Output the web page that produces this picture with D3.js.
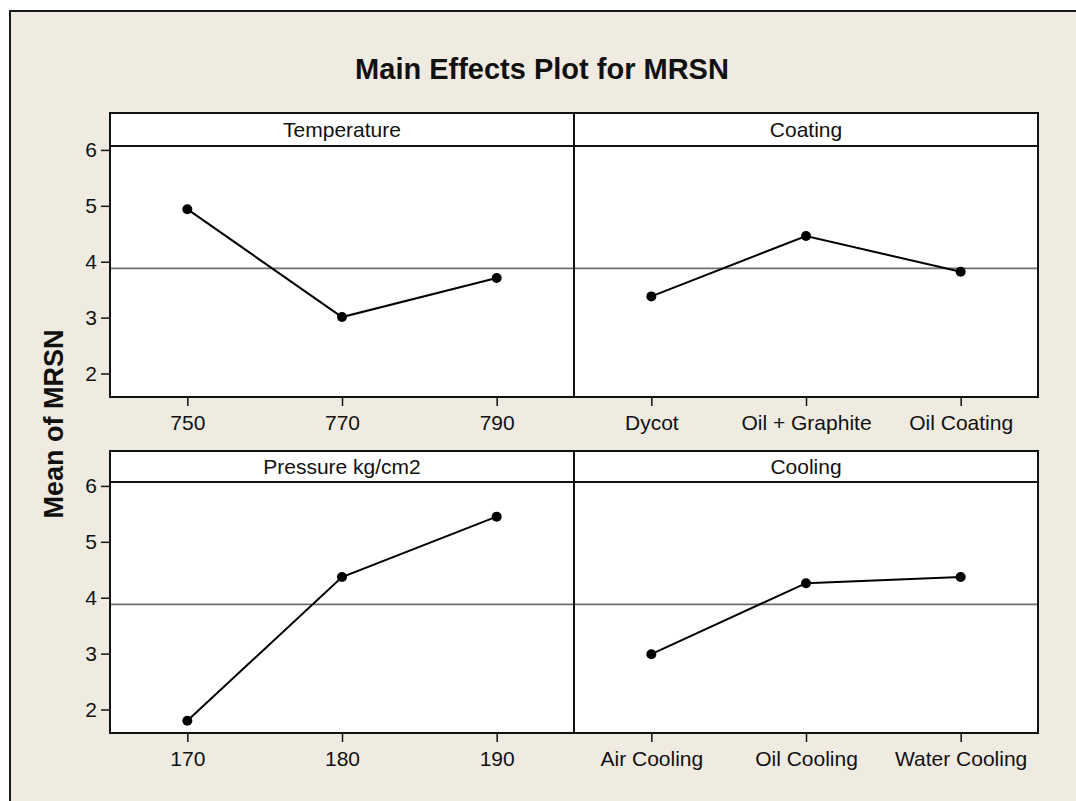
<!DOCTYPE html>
<html>
<head>
<meta charset="utf-8">
<script src="https://cdn.jsdelivr.net/npm/d3@7"></script>
<style>
  html, body { margin: 0; padding: 0; background: #ffffff; overflow: hidden; }
  svg { display: block; }
  svg text { font-family: "Liberation Sans", Arial, sans-serif; fill: #111; }
</style>
</head>
<body>
<div id="main-effects-chart"></div>
<script>
// Data: means of MRSN per factor level
const temperatureLevels = ["750", "770", "790"];
const temperatureMeans  = [4.94, 3.01, 3.71];
const coatingLevels     = ["Dycot", "Oil + Graphite", "Oil Coating"];
const coatingMeans      = [3.38, 4.46, 3.82];
const pressureLevels    = ["170", "180", "190"];
const pressureMeans     = [1.80, 4.37, 5.45];
const coolingLevels     = ["Air Cooling", "Oil Cooling", "Water Cooling"];
const coolingMeans      = [2.99, 4.26, 4.37];
const grandMean         = 3.88;
const yTicks            = [2, 3, 4, 5, 6];

const panels = [
    { title: "Temperature",     levels: temperatureLevels, means: temperatureMeans, col: 0, row: 0 },
    { title: "Coating",         levels: coatingLevels,     means: coatingMeans,     col: 1, row: 0 },
    { title: "Pressure kg/cm2", levels: pressureLevels,    means: pressureMeans,    col: 0, row: 1 },
    { title: "Cooling",         levels: coolingLevels,     means: coolingMeans,     col: 1, row: 1 }
];

const WIDTH = 1076, HEIGHT = 801;
// panel geometry
const colX   = [110, 574],      // left edge of each column
      colW   = 464,
      rowTop = [113, 451],      // top of the strip header
      headH  = [33, 31],
      plotH  = 251;

const svg = d3.select("#main-effects-chart")
              .append("svg")
                .attr("width", WIDTH)
                .attr("height", HEIGHT);

// beige frame (right / bottom edges run off the page)
svg.append("rect")
   .attr("x", 10).attr("y", 11)
   .attr("width", WIDTH + 60).attr("height", HEIGHT + 60)
   .attr("fill", "#efebe1")
   .attr("stroke", "#1a1a1a")
   .attr("stroke-width", 2);

// title
svg.append("text")
   .attr("x", 542)
   .attr("y", 79)
   .attr("text-anchor", "middle")
   .style("font-size", "29px")
   .style("font-weight", "bold")
   .text("Main Effects Plot for MRSN");

// y axis title
svg.append("text")
   .attr("transform", "translate(63, 424) rotate(-90)")
   .attr("text-anchor", "middle")
   .style("font-size", "27px")
   .style("font-weight", "bold")
   .text("Mean of MRSN");

panels.forEach(p => {
    const x0 = colX[p.col],
          hTop = rowTop[p.row],
          pTop = hTop + headH[p.row],
          pBot = pTop + plotH;

    const x = d3.scalePoint()
                .domain(p.levels)
                .range([x0, x0 + colW])
                .padding(0.5);
    const y = d3.scaleLinear()
                .domain([1.58, 6.07])
                .range([pBot, pTop]);

    const g = svg.append("g");

    // plot area
    g.append("rect")
     .attr("x", x0).attr("y", pTop)
     .attr("width", colW).attr("height", plotH)
     .attr("fill", "white");

    // strip header
    g.append("rect")
     .attr("x", x0).attr("y", hTop)
     .attr("width", colW).attr("height", headH[p.row])
     .attr("fill", "white")
     .attr("stroke", "#111")
     .attr("stroke-width", 2);
    g.append("text")
     .attr("x", x0 + colW / 2)
     .attr("y", hTop + headH[p.row] / 2 + 7.5)
     .attr("text-anchor", "middle")
     .style("font-size", "21px")
     .text(p.title);

    // reference line at the overall mean
    g.append("line")
     .attr("x1", x0).attr("x2", x0 + colW)
     .attr("y1", y(grandMean)).attr("y2", y(grandMean))
     .attr("stroke", "#6e6e6e")
     .attr("stroke-width", 1.8);

    // means line + points
    const pts = p.levels.map((l, i) => [l, p.means[i]]);
    g.append("path")
     .datum(pts)
     .attr("fill", "none")
     .attr("stroke", "black")
     .attr("stroke-width", 2)
     .attr("d", d3.line().x(d => x(d[0])).y(d => y(d[1])));
    g.selectAll("circle")
     .data(pts)
     .join("circle")
     .attr("cx", d => x(d[0]))
     .attr("cy", d => y(d[1]))
     .attr("r", 5)
     .attr("fill", "black");

    // x axis
    const xa = g.append("g")
                .attr("transform", `translate(0, ${pBot})`)
                .call(d3.axisBottom(x).tickSize(9).tickPadding(9));
    xa.select(".domain").remove();
    xa.selectAll("line").attr("stroke", "#111").attr("stroke-width", 1.5);
    xa.selectAll("text").style("font-size", "21px").attr("fill", "#111");

    // y axis only on the left column
    if (p.col === 0) {
        const ya = g.append("g")
                    .attr("transform", `translate(${x0}, 0)`)
                    .call(d3.axisLeft(y).tickValues(yTicks).tickFormat(d3.format("d"))
                            .tickSize(9).tickPadding(4));
        ya.select(".domain").remove();
        ya.selectAll("line").attr("stroke", "#111").attr("stroke-width", 1.5);
        ya.selectAll("text").style("font-size", "21px").attr("fill", "#111");
    }

    // plot border
    g.append("rect")
     .attr("x", x0).attr("y", pTop)
     .attr("width", colW).attr("height", plotH)
     .attr("fill", "none")
     .attr("stroke", "#111")
     .attr("stroke-width", 2);
});
</script>
</body>
</html>
